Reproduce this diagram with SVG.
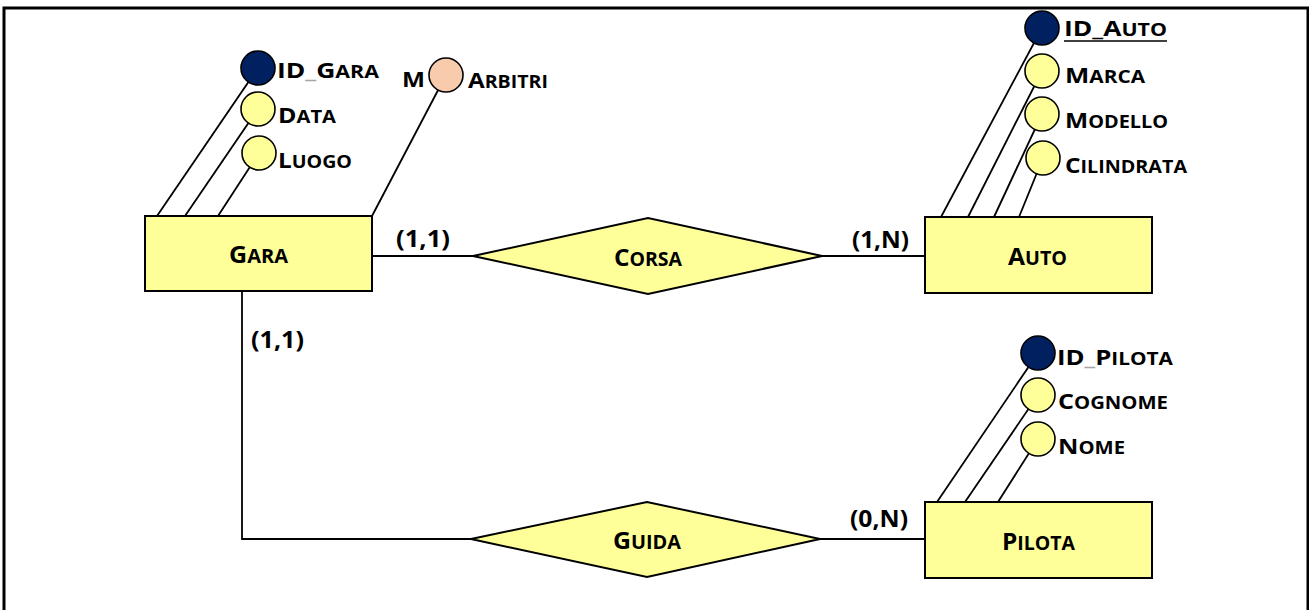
<svg xmlns="http://www.w3.org/2000/svg" width="1309" height="610" viewBox="0 0 1309 610">
  <style>
    .frame { fill: none; stroke: #000; stroke-width: 3; }
    .ent, .rel { fill: #FFFF99; stroke: #000; stroke-width: 2; }
    .attr { fill: #FFFF99; stroke: #000; stroke-width: 1.6; }
    .key { fill: #002060; stroke: #000; stroke-width: 1.6; }
    .multi { fill: #F8CBAD; stroke: #000; stroke-width: 1.6; }
    .conn line, .conn polyline { stroke: #000; stroke-width: 1.8; fill: none; }
    text { font-family: "Open Sans", Lato, "Liberation Sans", sans-serif; font-weight: bold; fill: #000; }
    .a { font-size: 22px; }
    .e { font-size: 24px; }
    .c { font-size: 23.5px; }
    .sa { font-size: 17.8px; }
    .se { font-size: 19.2px; }
    .us { fill: #a6a6a6; }
  </style>

  <!-- page frame -->
  <rect class="frame" x="4" y="8" width="1304" height="612"/>

  <!-- connectors: relationship links and attribute stems -->
  <g id="connectors" class="conn">
    <line x1="372" y1="256" x2="473" y2="256"/>
    <line x1="822" y1="256" x2="925" y2="256"/>
    <polyline points="242,292 242,539 471,539"/>
    <line x1="820" y1="539" x2="925" y2="539"/>
    <!-- Gara attributes -->
    <line x1="157" y1="216" x2="258" y2="68"/>
    <line x1="185" y1="216" x2="258" y2="109"/>
    <line x1="218" y1="216" x2="259" y2="153"/>
    <line x1="372" y1="216" x2="446" y2="75"/>
    <!-- Auto attributes -->
    <line x1="941" y1="217" x2="1042" y2="28"/>
    <line x1="968" y1="217" x2="1042" y2="71"/>
    <line x1="994" y1="217" x2="1042" y2="114"/>
    <line x1="1019" y1="217" x2="1043" y2="158"/>
    <!-- Pilota attributes -->
    <line x1="937" y1="502" x2="1038" y2="353"/>
    <line x1="965" y1="502" x2="1038" y2="395"/>
    <line x1="998" y1="502" x2="1038" y2="439"/>
  </g>

  <!-- cardinalities -->
  <g id="cardinalities">
    <text class="c" x="396" y="247" textLength="54" lengthAdjust="spacingAndGlyphs">(1,1)</text>
    <text class="c" x="852" y="248" textLength="57" lengthAdjust="spacingAndGlyphs">(1,N)</text>
    <text class="c" x="251" y="348" textLength="53" lengthAdjust="spacingAndGlyphs">(1,1)</text>
    <text class="c" x="850" y="527" textLength="58" lengthAdjust="spacingAndGlyphs">(0,N)</text>
  </g>

  <!-- entity: Gara -->
  <g id="gara">
    <rect class="ent" x="145" y="216" width="227" height="75"/>
    <text x="229" y="263" textLength="59" lengthAdjust="spacingAndGlyphs"><tspan class="e">G</tspan><tspan class="se">ARA</tspan></text>
  </g>
  <g id="gara-id">
    <circle class="key" cx="258" cy="68" r="17"/>
    <text x="277" y="78" textLength="102" lengthAdjust="spacingAndGlyphs"><tspan class="a">ID</tspan><tspan class="a us">_</tspan><tspan class="a">G</tspan><tspan class="sa">ARA</tspan></text>
  </g>
  <g id="gara-data">
    <circle class="attr" cx="258" cy="109" r="17"/>
    <text x="278" y="123" textLength="58" lengthAdjust="spacingAndGlyphs"><tspan class="a">D</tspan><tspan class="sa">ATA</tspan></text>
  </g>
  <g id="gara-luogo">
    <circle class="attr" cx="259" cy="153" r="17"/>
    <text x="278" y="168" textLength="74" lengthAdjust="spacingAndGlyphs"><tspan class="a">L</tspan><tspan class="sa">UOGO</tspan></text>
  </g>
  <g id="gara-arbitri">
    <circle class="multi" cx="446" cy="75" r="17"/>
    <text class="a" x="402" y="87" textLength="23" lengthAdjust="spacingAndGlyphs">M</text>
    <text x="468" y="88" textLength="80" lengthAdjust="spacingAndGlyphs"><tspan class="a">A</tspan><tspan class="sa">RBITRI</tspan></text>
  </g>

  <!-- relationship: Corsa -->
  <g id="corsa">
    <polygon class="rel" points="473,256 648,218 822,256 648,294"/>
    <text x="614" y="266" textLength="68" lengthAdjust="spacingAndGlyphs"><tspan class="e">C</tspan><tspan class="se">ORSA</tspan></text>
  </g>

  <!-- entity: Auto -->
  <g id="auto">
    <rect class="ent" x="925" y="217" width="227" height="76"/>
    <text x="1008" y="265" textLength="59" lengthAdjust="spacingAndGlyphs"><tspan class="e">A</tspan><tspan class="se">UTO</tspan></text>
  </g>
  <g id="auto-id">
    <circle class="key" cx="1042" cy="28" r="17"/>
    <text x="1064" y="36" textLength="103" lengthAdjust="spacingAndGlyphs"><tspan class="a">ID_A</tspan><tspan class="sa">UTO</tspan></text>
    <line x1="1064" y1="41" x2="1167" y2="41" stroke="#000" stroke-width="1.6"/>
  </g>
  <g id="auto-marca">
    <circle class="attr" cx="1042" cy="71" r="17"/>
    <text x="1065" y="83" textLength="80" lengthAdjust="spacingAndGlyphs"><tspan class="a">M</tspan><tspan class="sa">ARCA</tspan></text>
  </g>
  <g id="auto-modello">
    <circle class="attr" cx="1042" cy="114" r="17"/>
    <text x="1065" y="128" textLength="103" lengthAdjust="spacingAndGlyphs"><tspan class="a">M</tspan><tspan class="sa">ODELLO</tspan></text>
  </g>
  <g id="auto-cilindrata">
    <circle class="attr" cx="1043" cy="158" r="17"/>
    <text x="1065" y="173" textLength="122" lengthAdjust="spacingAndGlyphs"><tspan class="a">C</tspan><tspan class="sa">ILINDRATA</tspan></text>
  </g>

  <!-- relationship: Guida -->
  <g id="guida">
    <polygon class="rel" points="471,539 647,502 820,539 647,577"/>
    <text x="613" y="549" textLength="68" lengthAdjust="spacingAndGlyphs"><tspan class="e">G</tspan><tspan class="se">UIDA</tspan></text>
  </g>

  <!-- entity: Pilota -->
  <g id="pilota">
    <rect class="ent" x="925" y="502" width="227" height="76"/>
    <text x="1002" y="550" textLength="73" lengthAdjust="spacingAndGlyphs"><tspan class="e">P</tspan><tspan class="se">ILOTA</tspan></text>
  </g>
  <g id="pilota-id">
    <circle class="key" cx="1038" cy="353" r="17"/>
    <text x="1057" y="365" textLength="116" lengthAdjust="spacingAndGlyphs"><tspan class="a">ID</tspan><tspan class="a us">_</tspan><tspan class="a">P</tspan><tspan class="sa">ILOTA</tspan></text>
  </g>
  <g id="pilota-cognome">
    <circle class="attr" cx="1038" cy="395" r="17"/>
    <text x="1058" y="409" textLength="110" lengthAdjust="spacingAndGlyphs"><tspan class="a">C</tspan><tspan class="sa">OGNOME</tspan></text>
  </g>
  <g id="pilota-nome">
    <circle class="attr" cx="1038" cy="439" r="17"/>
    <text x="1058" y="454" textLength="67" lengthAdjust="spacingAndGlyphs"><tspan class="a">N</tspan><tspan class="sa">OME</tspan></text>
  </g>
</svg>
